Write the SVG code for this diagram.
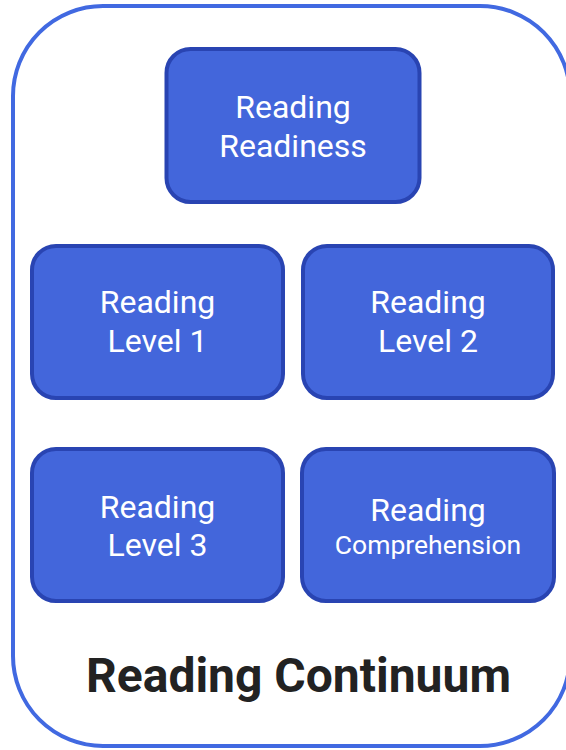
<svg xmlns="http://www.w3.org/2000/svg" width="566" height="750" viewBox="0 0 566 750">
<style>
.box{fill:#4366DB;stroke:#2944B2;stroke-width:4}
.lbl{font-family:Roboto,"Liberation Sans",sans-serif;fill:#ffffff;font-size:32px;text-anchor:middle}
.small{font-size:26.5px}
.title{font-family:Roboto,"Liberation Sans",sans-serif;font-weight:bold;fill:#222222;font-size:48px;text-anchor:middle}
</style>
<g id="container">
<rect x="13" y="6" width="557" height="740" rx="90" fill="#ffffff" stroke="#4169E1" stroke-width="4"/>
<text class="title" x="298.5" y="692">Reading Continuum</text>
</g>
<g id="connectors"></g>
<g id="readiness">
<rect class="box" x="166.5" y="49" width="253" height="153" rx="24"/>
<text class="lbl" x="293" y="118">Reading</text>
<text class="lbl" x="293" y="157">Readiness</text>
</g>
<g id="level1">
<rect class="box" x="32" y="246" width="251" height="152" rx="24"/>
<text class="lbl" x="157.5" y="313">Reading</text>
<text class="lbl" x="157.5" y="352">Level 1</text>
</g>
<g id="level2">
<rect class="box" x="303" y="246" width="250" height="152" rx="24"/>
<text class="lbl" x="428" y="313">Reading</text>
<text class="lbl" x="428" y="352">Level 2</text>
</g>
<g id="level3">
<rect class="box" x="32" y="449" width="251" height="152" rx="24"/>
<text class="lbl" x="157.5" y="518">Reading</text>
<text class="lbl" x="157.5" y="556">Level 3</text>
</g>
<g id="comprehension">
<rect class="box" x="302" y="449" width="252" height="152" rx="24"/>
<text class="lbl" x="428" y="521">Reading</text>
<text class="lbl small" x="428" y="554">Comprehension</text>
</g>
</svg>
